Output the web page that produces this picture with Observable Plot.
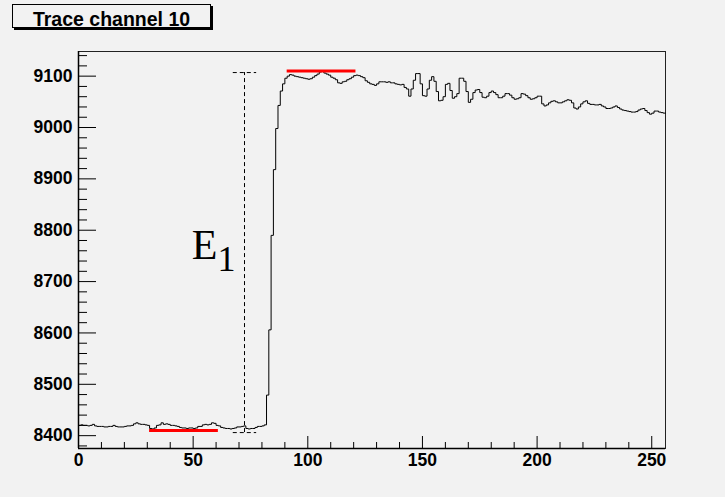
<!DOCTYPE html>
<html>
<head>
<meta charset="utf-8">
<script src="https://cdn.jsdelivr.net/npm/d3@7"></script>
<script src="https://cdn.jsdelivr.net/npm/@observablehq/plot@0.6"></script>
<style>
  html, body { margin: 0; padding: 0; background: #f2f2f2; }
  #wrap { position: relative; width: 725px; height: 497px; }
  #title {
    position: absolute; left: 12px; top: 4px; width: 197px; height: 19px;
    padding-top: 3px; line-height: 19px;
    border: 1px solid #000; box-shadow: 2px 2px 0 #000;
    background: #f2f2f2; text-align: center;
    font: bold 19.5px "Liberation Sans", Arial, sans-serif; color: #000;
  }
</style>
</head>
<body>
<div id="wrap"><div id="title">Trace channel 10</div></div>
<script>
const titleText = "Trace channel 10";

// ADC counts per sample (bins 0..255)
const baseline = [
  8420, 8421, 8420, 8420, 8419, 8420, 8422, 8419, 8418, 8418,
  8418, 8417, 8417, 8418, 8418, 8420, 8418, 8417, 8417, 8417,
  8418, 8419, 8419, 8420, 8423, 8425, 8423, 8422, 8422, 8421,
  8420, 8414, 8413, 8415, 8420, 8421, 8425, 8422, 8423, 8422,
  8420, 8420, 8419, 8418, 8416, 8415, 8415, 8414, 8415, 8415,
  8414, 8415, 8418, 8418, 8421, 8422, 8421, 8422, 8425, 8424,
  8420, 8419, 8416, 8415, 8414, 8414, 8413, 8414, 8415, 8417,
  8417, 8418, 8419, 8414, 8413, 8414, 8414, 8416, 8418, 8418,
  8419, 8421
];
const rise = [8479, 8606, 8790, 8918, 8998, 9043, 9071, 9085, 9096, 9100];
const plateau = [
  9103, 9102, 9100, 9099, 9098, 9097, 9096, 9095, 9094, 9095,
  9098, 9101, 9104, 9108, 9110, 9106, 9104, 9102, 9098, 9096,
  9093, 9087, 9086, 9089, 9090, 9093, 9095, 9098, 9101, 9102,
  9101, 9099, 9097, 9091, 9088, 9085, 9084, 9082, 9085, 9089,
  9089, 9089, 9088, 9089, 9087, 9087, 9085, 9084, 9083, 9084,
  9078, 9075, 9061, 9075, 9092, 9105, 9105, 9085, 9062, 9061,
  9075, 9092, 9099, 9090, 9070, 9052, 9053, 9060, 9084, 9086,
  9072, 9057, 9060, 9066, 9096, 9096, 9090, 9070, 9049, 9055,
  9068, 9073, 9074, 9068, 9059, 9058, 9061, 9068, 9071, 9068,
  9064, 9058, 9058, 9061, 9066, 9066, 9063, 9058, 9055, 9056,
  9058, 9066, 9065, 9062, 9058, 9055, 9056, 9058, 9061, 9061,
  9046, 9042, 9044, 9048, 9051, 9052, 9050, 9048, 9048, 9050,
  9052, 9054, 9053, 9048, 9038, 9036, 9040, 9046, 9050, 9052,
  9047, 9045, 9045, 9044, 9044, 9045, 9042, 9040, 9037, 9037,
  9038, 9040, 9042, 9039, 9036, 9034, 9033, 9032, 9031, 9030,
  9030, 9031, 9034, 9036, 9037, 9033, 9029, 9026, 9028, 9032,
  9032, 9030, 9029, 9028
];

// Annotations
const levelLines = [
  {x1: 31, x2: 61, y: 8410},
  {x1: 91, x2: 121, y: 9110}
];
const e1Marker = {x: 72.4, xLeft: 67.5, xRight: 77.7, yLow: 8406, yHigh: 9107};
const e1Label = [{x: 49.4, y: 8744, t: "E"}];
const e1Sub = [{x: 60.6, y: 8721, t: "1"}];

// Axes
const xDomain = [0, 256];
const yDomain = [8375, 9148];
const xMajor = [0, 50, 100, 150, 200, 250];
const yMajor = [8400, 8500, 8600, 8700, 8800, 8900, 9000, 9100];
const xMinor = d3.range(0, 257, 10).filter(v => !xMajor.includes(v));
const yMinor = d3.range(8380, 9148, 20).filter(v => !yMajor.includes(v));

const counts = baseline.concat(rise, plateau);
const pts = counts.map((v, i) => ({x: i, y: v}));
pts.push({x: counts.length, y: counts[counts.length - 1]});

const W = 725, H = 497, mT = 51, mR = 60, mB = 49, mL = 78;
const fw = W - mL - mR, fh = H - mT - mB;

const plot = Plot.plot({
  width: W, height: H,
  marginTop: mT, marginRight: mR, marginBottom: mB, marginLeft: mL,
  style: {background: "transparent", fontFamily: "'Liberation Sans', Arial, sans-serif", fontWeight: "bold", fontSize: "17.5px", color: "#000"},
  x: {domain: xDomain},
  y: {domain: yDomain},
  marks: [
    Plot.frame({stroke: "#222", strokeWidth: 1}),
    // ticks (inward)
    Plot.tickX(xMajor, {x: d => d, insetTop: fh - 12, stroke: "#000", strokeWidth: 1}),
    Plot.tickX(xMinor, {x: d => d, insetTop: fh - 6, stroke: "#000", strokeWidth: 1}),
    Plot.tickY(yMajor, {y: d => d, insetRight: fw - 18, stroke: "#000", strokeWidth: 1}),
    Plot.tickY(yMinor, {y: d => d, insetRight: fw - 9, stroke: "#000", strokeWidth: 1}),
    Plot.ruleX([xDomain[0]], {stroke: "#000", strokeWidth: 1.5}),
    Plot.ruleY([yDomain[0]], {stroke: "#000", strokeWidth: 1.5}),
    Plot.axisX({ticks: xMajor, tickSize: 0, tickPadding: 5, tickFormat: d3.format("d"), fontSize: 17.5, fontWeight: "bold"}),
    Plot.axisY({ticks: yMajor, tickSize: 0, tickPadding: 6, tickFormat: d3.format("d"), fontSize: 17.5, fontWeight: "bold"}),
    // dashed E1 marker
    Plot.ruleX([e1Marker], {x: "x", y1: "yLow", y2: "yHigh", stroke: "#000", strokeWidth: 1, strokeDasharray: "4,3"}),
    Plot.ruleY([e1Marker], {y: "yLow", x1: "xLeft", x2: "xRight", stroke: "#000", strokeWidth: 1, strokeDasharray: "4,3"}),
    Plot.ruleY([e1Marker], {y: "yHigh", x1: "xLeft", x2: "xRight", stroke: "#000", strokeWidth: 1, strokeDasharray: "4,3"}),
    // trace
    Plot.line(pts, {x: "x", y: "y", curve: "step-after", stroke: "#000", strokeWidth: 1}),
    // level lines
    Plot.ruleY(levelLines, {y: "y", x1: "x1", x2: "x2", stroke: "#ff0000", strokeWidth: 3}),
    // E1 label
    Plot.text(e1Label, {x: "x", y: "y", text: "t", textAnchor: "start", lineAnchor: "bottom", fontFamily: "'Liberation Serif', 'Times New Roman', serif", fontWeight: "normal", fontSize: 42, fill: "#000"}),
    Plot.text(e1Sub, {x: "x", y: "y", text: "t", textAnchor: "start", lineAnchor: "bottom", fontFamily: "'Liberation Serif', 'Times New Roman', serif", fontWeight: "normal", fontSize: 36, fill: "#000"})
  ]
});
const wrap = document.getElementById("wrap");
plot.style.position = "absolute";
plot.style.left = "0px";
plot.style.top = "0px";
wrap.insertBefore(plot, wrap.firstChild);
</script>
</body>
</html>
